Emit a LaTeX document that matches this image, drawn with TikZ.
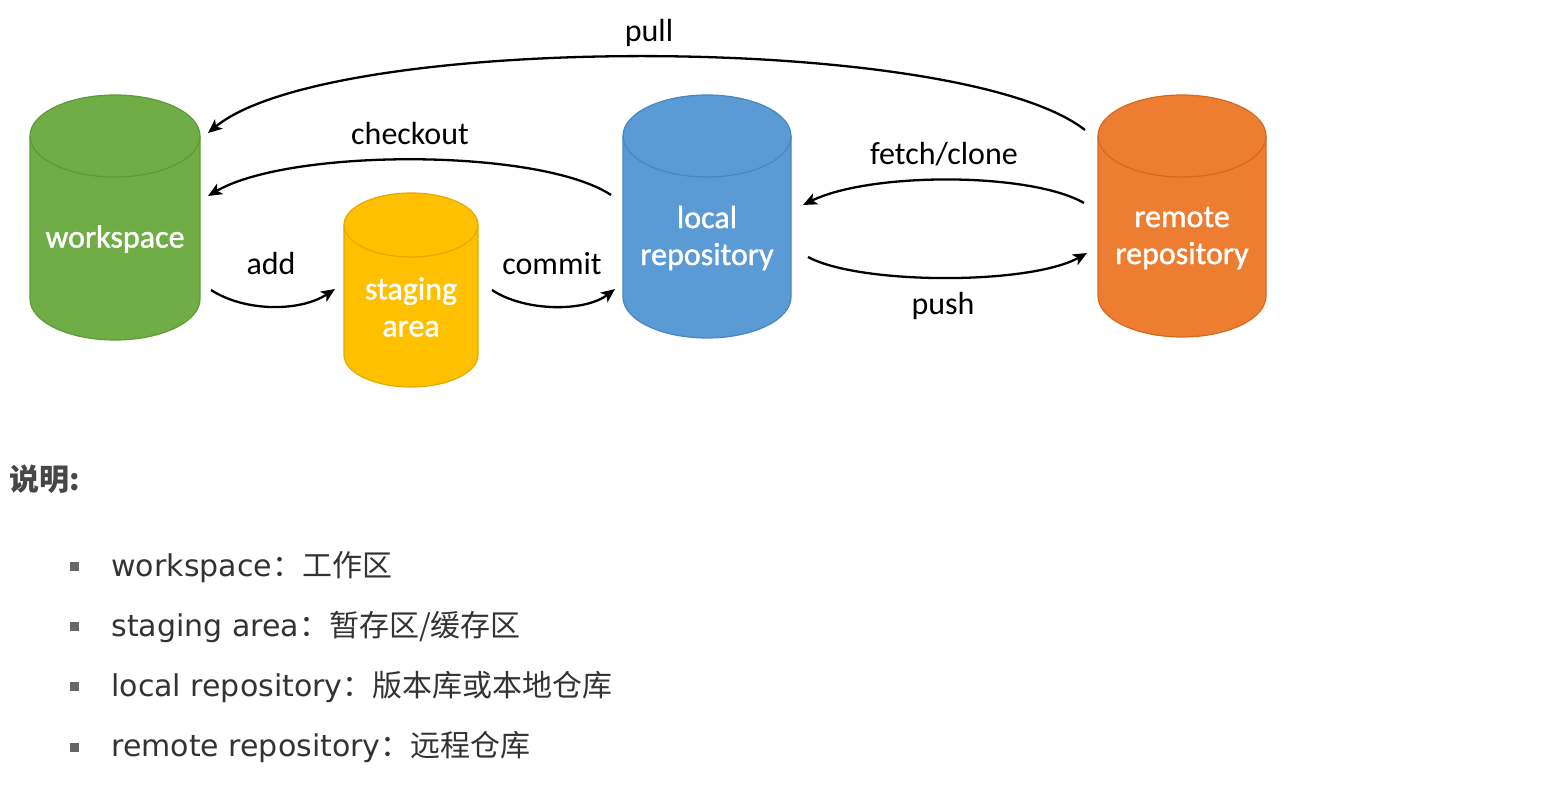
\documentclass[tikz,border=0pt]{standalone}
\usepackage{fontspec}
\setmainfont{Carlito}
\newfontfamily\cylfont[FakeBold=1.3]{Carlito}
\newfontfamily\cjk{Noto Sans CJK SC}
\newfontfamily\dv{DejaVu Sans}
\usetikzlibrary{arrows.meta}
\definecolor{wsfill}{HTML}{70AD47}\definecolor{wsedge}{HTML}{5E9A3A}
\definecolor{stfill}{HTML}{FFC000}\definecolor{stedge}{HTML}{E3AA00}
\definecolor{lofill}{HTML}{5B9BD5}\definecolor{loedge}{HTML}{4A86C0}
\definecolor{refill}{HTML}{ED7D31}\definecolor{reedge}{HTML}{D46A22}
\definecolor{txtgray}{HTML}{333333}
\definecolor{bulgray}{HTML}{666666}
\newcommand\dbcyl[7]{%
  \draw[fill=#6,draw=#7,line width=0.6pt] (#1-#4,#2) -- (#1-#4,#3)
    arc[start angle=180,end angle=360,x radius=#4*0.5pt,y radius=#5*0.5pt]
    -- (#1+#4,#2)
    arc[start angle=0,end angle=180,x radius=#4*0.5pt,y radius=#5*0.5pt] -- cycle;
  \draw[draw=#7,line width=0.6pt] (#1-#4,#2)
    arc[start angle=180,end angle=360,x radius=#4*0.5pt,y radius=#5*0.5pt];
}
\begin{document}
\begin{tikzpicture}[x=0.5pt,y=-0.5pt,
  cyltext/.style={text=white,align=center,font=\cylfont\fontsize{16}{18.5}\selectfont},
  lbl/.style={text=black,font=\fontsize{16}{18}\selectfont},
  flow/.style={line width=1.15pt,-{Stealth[length=7pt,width=6pt,inset=1.8pt]}},
  bulletbox/.style={fill=bulgray,inner sep=0pt,minimum size=4.5pt},
  itemtext/.style={anchor=west,text=txtgray,font=\fontsize{15}{18}\selectfont}]
\useasboundingbox (0,0) rectangle (1565,796);
% cylinders
\dbcyl{115}{136}{299}{85}{41}{wsfill}{wsedge}
\dbcyl{411}{225}{355}{67}{32}{stfill}{stedge}
\dbcyl{707}{136}{297}{84}{41}{lofill}{loedge}
\dbcyl{1182}{136}{296}{84}{41}{refill}{reedge}
\node[cyltext] (ws) at (115,239) {workspace};
\node[cyltext] (st) at (411,307) {staging\\area};
\node[cyltext] (lo) at (707,238) {local\\repository};
\node[cyltext] (re) at (1182,238) {remote\\repository};
% connector end points
\coordinate (re-pull) at (1085,130);
\coordinate (ws-pull) at (208,133);
\coordinate (lo-co) at (611,195);
\coordinate (ws-co) at (208,196);
\coordinate (ws-add) at (211,290);
\coordinate (st-add) at (335,289);
\coordinate (st-cm) at (492,290);
\coordinate (lo-cm) at (615,289);
\coordinate (re-fc) at (1084,203);
\coordinate (lo-fc) at (803,205);
\coordinate (lo-push) at (808,257);
\coordinate (re-push) at (1087,253);
% connectors
\draw[flow] (re-pull) .. controls (960,32) and (330,32) .. (ws-pull);
\draw[flow] (lo-co) .. controls (540,148) and (290,148) .. (ws-co);
\draw[flow] (ws-add) .. controls (245,312) and (300,312) .. (st-add);
\draw[flow] (st-cm) .. controls (525,312) and (585,312) .. (lo-cm);
\draw[flow] (re-fc) .. controls (1030,172) and (870,172) .. (lo-fc);
\draw[flow] (lo-push) .. controls (860,285) and (1030,285) .. (re-push);
% labels
\node[lbl] (lpull) at (649,33) {pull};
\node[lbl] (lco) at (410,134) {checkout};
\node[lbl] (ladd) at (271,264) {add};
\node[lbl] (lcm) at (552,264) {commit};
\node[lbl] (lfc) at (944,154) {fetch/clone};
\node[lbl] (lpush) at (943,306) {push};
% explanation
\node[anchor=west,inner sep=0pt,text=txtgray!90!white,font=\fontsize{15}{18}\selectfont] (title) at (9,479) {\cjk\bfseries 说明:};
\node[bulletbox] (b1) at (74,567) {};
\node[bulletbox] (b2) at (74,627) {};
\node[bulletbox] (b3) at (74,687) {};
\node[bulletbox] (b4) at (74,747) {};
\node[itemtext,inner sep=0pt] (i1) at (111,567) {\dv workspace\cjk：工作区};
\node[itemtext,inner sep=0pt] (i2) at (111,627) {\dv staging area\cjk：暂存区/缓存区};
\node[itemtext,inner sep=0pt] (i3) at (111,687) {\dv local repository\cjk：版本库或本地仓库};
\node[itemtext,inner sep=0pt] (i4) at (111,747) {\dv remote repository\cjk：远程仓库};
\end{tikzpicture}
\end{document}
